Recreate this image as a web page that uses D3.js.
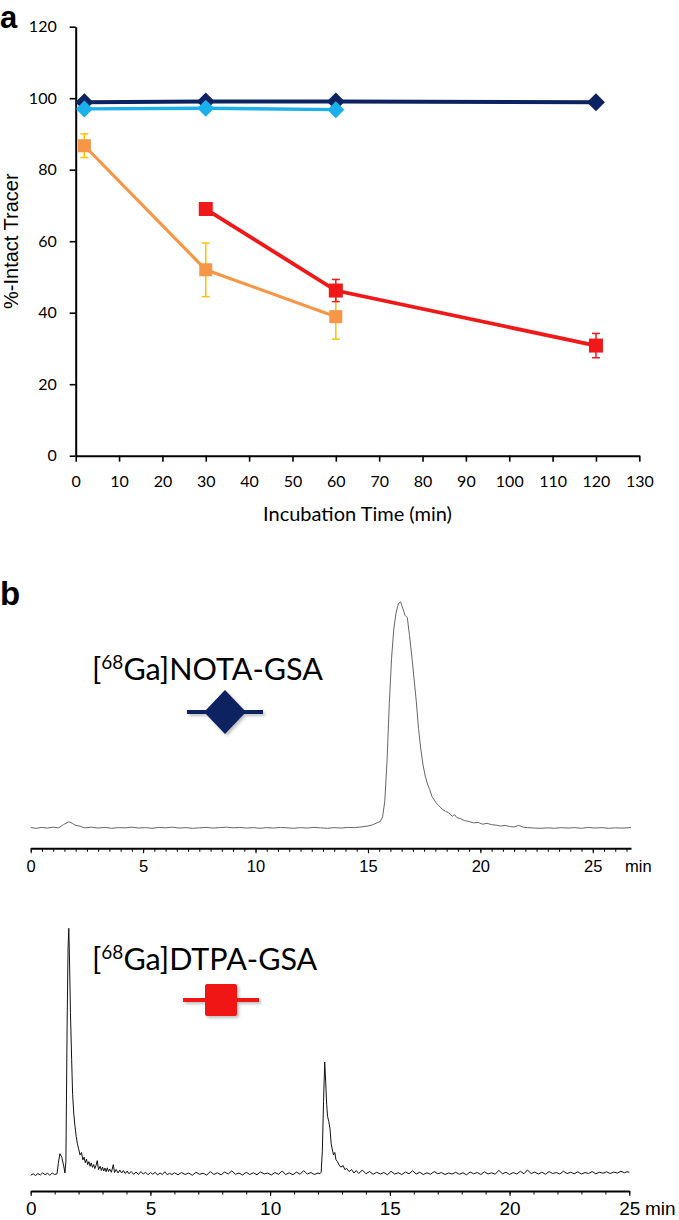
<!DOCTYPE html>
<html><head><meta charset="utf-8">
<script src="https://cdn.jsdelivr.net/npm/d3@7"></script>
<style>body{margin:0;background:#fff}svg{display:block}</style>
</head><body><svg id="c" width="679" height="1220"></svg>
<script>
// ---------- Panel a data ----------
const xTicksA = [0,10,20,30,40,50,60,70,80,90,100,110,120,130];
const yTicksA = [0,20,40,60,80,100,120];
const navyTimes = [2,30,60,120];
const navyVals  = [98.9,99.1,99.1,98.9];
const lightTimes = [2,30,60];
const lightVals  = [97.0,97.2,96.8];
const orangeTimes = [2,30,60];
const orangeVals  = [86.7,52.0,38.9];
const orangeErr   = [3.3,7.5,6.3];
const redTimes = [30,60,120];
const redVals  = [69.0,46.2,30.8];
const redErr   = [0.8,3.1,3.4];
const xTitleA = "Incubation Time (min)";
const yTitleA = "%-Intact Tracer";

// ---------- Panel b data ----------
const c1Labels = [0,5,10,15,20,25];
const c2Labels = [0,5,10,15,20,25];
const legend1 = ["[", "68", "Ga]NOTA-GSA"];
const legend2 = ["[", "68", "Ga]DTPA-GSA"];
// chromatogram 1 (NOTA-GSA): [time min, relative signal]
const trace1 = [[0,0.3],[0.25,0],[0.5,0.4],[0.75,0.1],[1.0,0.5],[1.25,0.2],[1.45,1.6],[1.7,2.9],[1.85,2.2],[2.0,1.3],[2.2,0.9],[2.4,0.2],[2.7,0.5],[3.0,0.1],[3.3,0.4],[3.6,0.0],[3.9,0.3],[4.2,0.2],[4.5,0.5],[4.8,0.1],[5.1,0.3],[5.4,0.0],[5.7,0.4],[6.0,0.2],[6.3,0.5],[6.6,0.1],[6.9,0.3],[7.2,0.0],[7.5,0.2],[7.8,0.4],[8.1,0.1],[8.4,0.3],[8.7,0.5],[9.0,0.2],[9.3,0.4],[9.6,0.1],[9.9,0.3],[10.2,0.0],[10.5,0.3],[10.8,0.1],[11.1,0.4],[11.4,0.2],[11.7,0.0],[12.0,0.3],[12.3,0.1],[12.6,0.4],[12.9,0.2],[13.2,0.0],[13.5,0.3],[13.8,0.1],[14.1,0.4],[14.4,0.3],[14.7,0.6],[15.0,1.0],[15.2,1.5],[15.4,2.4],[15.55,3.0],[15.65,5],[15.75,12],[15.85,30],[15.95,55],[16.05,75],[16.15,88],[16.25,95],[16.35,99],[16.45,100],[16.55,97],[16.65,94],[16.75,93],[16.85,85],[16.95,76],[17.05,66],[17.15,56],[17.25,44],[17.35,35],[17.45,28],[17.55,23],[17.65,19.5],[17.75,17],[17.85,14],[17.95,12.5],[18.05,11],[18.15,10],[18.3,8.5],[18.45,7.5],[18.6,6.8],[18.75,5.3],[18.85,6.0],[18.95,4.8],[19.1,4.3],[19.3,3.4],[19.5,3.0],[19.7,2.4],[19.9,2.6],[20.1,1.8],[20.3,2.2],[20.5,1.6],[20.7,1.4],[20.9,1.0],[21.1,1.3],[21.3,0.8],[21.5,0.6],[21.7,1.3],[21.9,0.5],[22.1,0.3],[22.4,0.1],[22.7,0.0],[23.0,0.2],[23.3,0.0],[23.6,0.3],[23.9,0.1],[24.2,0.3],[24.5,0.0],[24.8,0.4],[25.1,0.1],[25.4,0.3],[25.7,0.0],[26.0,0.2],[26.3,0.1],[26.7,0.3]];
// chromatogram 2 (DTPA-GSA)
const trace2 = [[0,0.3],[0.1,0.9],[0.2,0.2],[0.3,1.0],[0.4,0.4],[0.5,1.3],[0.6,0.5],[0.7,1.1],[0.8,0.3],[0.9,1.2],[1.0,0.6],[1.1,0.9],[1.15,5],[1.22,9.0],[1.3,7.5],[1.38,4.0],[1.43,1.2],[1.47,6],[1.52,60],[1.56,92],[1.59,100],[1.62,88],[1.66,66],[1.71,47],[1.75,33],[1.8,25],[1.85,20],[1.9,16],[1.95,13],[2.0,11],[2.06,8.5],[2.12,9.5],[2.18,6.5],[2.23,7.6],[2.28,5.4],[2.33,6.8],[2.38,4.6],[2.43,5.8],[2.48,3.9],[2.53,5.3],[2.58,3.5],[2.63,4.6],[2.68,3.0],[2.73,4.3],[2.78,6.2],[2.83,2.6],[2.9,3.9],[2.95,2.2],[3.0,3.6],[3.05,2.0],[3.1,3.2],[3.15,1.7],[3.2,3.3],[3.25,1.8],[3.3,2.8],[3.37,1.5],[3.45,4.6],[3.5,1.4],[3.57,2.6],[3.65,1.2],[3.72,2.4],[3.8,1.2],[3.87,2.2],[3.95,1.0],[4.03,2.0],[4.1,0.9],[4.2,1.8],[4.3,0.7],[4.4,1.6],[4.5,0.6],[4.6,1.8],[4.7,0.8],[4.8,1.5],[4.9,0.5],[5.0,1.4],[5.1,0.7],[5.2,1.5],[5.3,0.4],[5.4,1.2],[5.5,0.6],[5.6,1.7],[5.7,0.5],[5.8,1.1],[5.9,0.6],[6.0,1.3],[6.15,0.5],[6.3,1.4],[6.45,0.6],[6.6,1.2],[6.75,0.3],[6.9,1.5],[7.05,0.7],[7.2,1.1],[7.35,0.4],[7.5,1.8],[7.65,0.6],[7.8,1.3],[7.95,0.5],[8.1,1.6],[8.25,0.8],[8.4,2.1],[8.55,0.7],[8.7,1.2],[8.85,0.4],[9.0,1.5],[9.15,0.6],[9.3,1.3],[9.45,0.5],[9.6,1.7],[9.75,0.8],[9.9,1.2],[10.05,0.4],[10.2,1.4],[10.35,0.7],[10.5,2.0],[10.65,0.6],[10.8,1.3],[10.95,0.5],[11.1,1.6],[11.25,0.7],[11.4,2.2],[11.55,0.8],[11.7,1.4],[11.85,0.6],[12.0,1.2],[12.08,0.9],[12.13,1.5],[12.18,10],[12.23,30],[12.28,46],[12.32,38],[12.36,29],[12.4,24],[12.45,22],[12.5,19],[12.55,13],[12.6,10.5],[12.65,8.5],[12.7,9.5],[12.75,6.5],[12.8,6.0],[12.88,4.5],[12.95,3.6],[13.05,4.2],[13.12,2.6],[13.2,3.0],[13.3,1.8],[13.4,2.6],[13.5,1.2],[13.6,2.2],[13.7,1.0],[13.85,2.4],[14.0,0.9],[14.15,1.8],[14.3,0.7],[14.45,1.5],[14.6,0.8],[14.75,1.4],[14.9,0.5],[15.05,1.9],[15.2,0.8],[15.35,1.3],[15.5,0.6],[15.65,1.6],[15.8,0.9],[15.95,2.1],[16.1,0.8],[16.25,1.5],[16.4,0.6],[16.55,1.3],[16.7,0.7],[16.85,1.8],[17.0,0.9],[17.15,1.4],[17.3,0.6],[17.45,1.2],[17.6,0.8],[17.75,1.5],[17.9,0.7],[18.05,1.3],[18.2,0.5],[18.35,1.6],[18.5,0.9],[18.65,1.4],[18.8,0.6],[18.95,1.7],[19.1,0.8],[19.25,1.3],[19.4,0.7],[19.55,2.3],[19.7,0.9],[19.85,1.5],[20.0,0.6],[20.15,1.4],[20.3,0.8],[20.45,1.9],[20.6,0.9],[20.75,2.4],[20.9,1.0],[21.05,1.6],[21.2,0.8],[21.35,1.5],[21.5,0.7],[21.65,1.8],[21.8,1.0],[21.95,1.4],[22.1,0.8],[22.25,1.9],[22.4,1.0],[22.55,1.5],[22.7,0.9],[22.85,1.7],[23.0,0.8],[23.15,1.4],[23.3,1.0],[23.45,1.8],[23.6,0.9],[23.75,1.5],[23.9,1.1],[24.05,1.7],[24.2,1.0],[24.35,1.6],[24.5,1.2],[24.65,1.9],[24.8,1.3],[24.9,1.7],[25.0,1.5]];

const svg = d3.select("#c");
const NAVY="#0b2461", LIGHT="#1ab0ec", ORANGE="#f79646", RED="#f01818", GOLD="#ffc000";
const fontA = "Lato, 'Open Sans', sans-serif";
const fontArial = "'Liberation Sans', Arial, sans-serif";

// drop shadow filter for legend glyphs
const defs = svg.append("defs");
const f = defs.append("filter").attr("id","sh").attr("x","-30%").attr("y","-30%").attr("width","160%").attr("height","160%");
f.append("feDropShadow").attr("dx",2).attr("dy",2).attr("stdDeviation",1.5).attr("flood-color","#000").attr("flood-opacity",0.25);

// ================= Panel a =================
const xA = d3.scaleLinear().domain([0,130]).range([75.7,639.3]);
const yA = d3.scaleLinear().domain([0,120]).range([455.7,26.7]);
const gA = svg.append("g");

const xAx = gA.append("g").attr("transform",`translate(0,${yA(0)})`)
  .call(d3.axisBottom(xA).tickValues(xTicksA).tickSize(6).tickPadding(13.6).tickSizeOuter(0));
const yAx = gA.append("g").attr("transform",`translate(${xA(0)},0)`)
  .call(d3.axisLeft(yA).tickValues(yTicksA).tickSize(6).tickPadding(13).tickSizeOuter(0));
[xAx,yAx].forEach(a=>{
  a.select(".domain").attr("stroke","#000").attr("stroke-width",2);
  a.selectAll(".tick line").attr("stroke","#000").attr("stroke-width",1.6);
  a.selectAll(".tick text").attr("font-family",fontA).attr("font-size",16).attr("fill","#000");
});
gA.append("text").attr("x",(xA(0)+xA(130))/2).attr("y",521).attr("text-anchor","middle")
  .attr("font-family",fontA).attr("font-size",20).text(xTitleA);
gA.append("text").attr("transform",`translate(17.5,${(yA(0)+yA(120))/2}) rotate(-90)`).attr("text-anchor","middle")
  .attr("font-family",fontArial).attr("font-size",20).text(yTitleA);
svg.append("text").attr("x",0).attr("y",28).attr("font-family",fontArial).attr("font-weight","bold").attr("font-size",31).text("a");

function zip(t,v,e){return t.map((d,i)=>({t:d,v:v[i],e:e?e[i]:0}));}
const orange = zip(orangeTimes,orangeVals,orangeErr);
const red = zip(redTimes,redVals,redErr);
const navy = zip(navyTimes,navyVals);
const light = zip(lightTimes,lightVals);
const line = d3.line().x(d=>xA(d.t)).y(d=>yA(d.v));

function errBars(data,color){
  const g = gA.append("g").attr("stroke",color).attr("stroke-width",1.5).attr("fill","none");
  data.forEach(d=>{
    if(!d.e) return;
    g.append("line").attr("x1",xA(d.t)).attr("x2",xA(d.t)).attr("y1",yA(d.v-d.e)).attr("y2",yA(d.v+d.e));
    [d.v-d.e,d.v+d.e].forEach(v=>g.append("line").attr("x1",xA(d.t)-4).attr("x2",xA(d.t)+4).attr("y1",yA(v)).attr("y2",yA(v)));
  });
}
const diamond = r=>`M0,${-r}L${r},0L0,${r}L${-r},0Z`;
const square = s=>`M${-s/2},${-s/2}h${s}v${s}h${-s}Z`;

errBars(orange,GOLD);
gA.append("path").datum(orange).attr("d",line).attr("fill","none").attr("stroke",ORANGE).attr("stroke-width",3.2);
gA.selectAll(".om").data(orange).enter().append("path").attr("d",square(13))
  .attr("transform",d=>`translate(${xA(d.t)},${yA(d.v)})`).attr("fill",ORANGE);
errBars(red,RED);
gA.append("path").datum(red).attr("d",line).attr("fill","none").attr("stroke",RED).attr("stroke-width",3.8);
gA.selectAll(".rm").data(red).enter().append("path").attr("d",square(14))
  .attr("transform",d=>`translate(${xA(d.t)},${yA(d.v)})`).attr("fill",RED);
gA.append("path").datum(navy).attr("d",line).attr("fill","none").attr("stroke",NAVY).attr("stroke-width",4);
gA.selectAll(".nm").data(navy).enter().append("path").attr("d",diamond(9))
  .attr("transform",d=>`translate(${xA(d.t)},${yA(d.v)})`).attr("fill",NAVY);
gA.append("path").datum(light).attr("d",line).attr("fill","none").attr("stroke",LIGHT).attr("stroke-width",3.4);
gA.selectAll(".lm").data(light).enter().append("path").attr("d",diamond(8.5))
  .attr("transform",d=>`translate(${xA(d.t)},${yA(d.v)})`).attr("fill",LIGHT);

// ================= Panel b =================
svg.append("text").attr("x",0).attr("y",605).attr("font-family",fontArial).attr("font-weight","bold").attr("font-size",33).text("b");

function chrom(opts){
  const x = d3.scaleLinear().domain([0,opts.xmax]).range([30.7,opts.xRight]);
  const y = d3.scaleLinear().domain([0,100]).range([opts.base,opts.top]);
  const g = svg.append("g");
  g.append("path").datum(opts.data).attr("d",d3.line().x(d=>x(d[0])).y(d=>y(d[1])))
    .attr("fill","none").attr("stroke",opts.color).attr("stroke-width",opts.lw).attr("stroke-linejoin","round");
  const minor = g.append("g").attr("transform",`translate(0,${opts.axisY})`)
    .call(d3.axisBottom(x).tickValues(d3.range(0,opts.xmax+0.001,opts.minorStep)).tickSize(3.5).tickFormat("").tickSizeOuter(0));
  minor.select(".domain").attr("stroke","#000").attr("stroke-width",2);
  minor.selectAll(".tick line").attr("stroke","#000").attr("stroke-width",1);
  const major = g.append("g").attr("transform",`translate(0,${opts.axisY})`)
    .call(d3.axisBottom(x).tickValues(opts.labels).tickSize(5).tickPadding(opts.pad).tickSizeOuter(0));
  major.select(".domain").remove();
  major.selectAll(".tick line").attr("stroke","#000").attr("stroke-width",1);
  major.selectAll(".tick text").attr("font-family",fontArial).attr("font-size",opts.fs).attr("fill","#000");
  g.append("text").attr("x",opts.minX).attr("y",opts.minY).attr("font-family",fontArial).attr("font-size",opts.fs).text("min");
  return {x,y};
}
chrom({xmax:26.7,xRight:631,base:828.3,top:601.7,axisY:848.3,data:trace1,color:"#666",lw:1,
  minorStep:0.5,labels:c1Labels,pad:7,fs:16.5,minX:625,minY:872});
chrom({xmax:25,xRight:629.3,base:1176,top:928.3,axisY:1191,data:trace2,color:"#111",lw:1,
  minorStep:1,labels:c2Labels,pad:5.5,fs:19,minX:645,minY:1215});

function legendText(parts,x,yb){
  const t = svg.append("text").attr("x",x).attr("y",yb).attr("font-family",fontA).attr("font-size",30.5).attr("fill","#000");
  t.append("tspan").text(parts[0]);
  t.append("tspan").attr("dy",-11).attr("font-size",19).text(parts[1]);
  t.append("tspan").attr("dy",11).text(parts[2]);
}
legendText(legend1,92,680);
legendText(legend2,92,970);
// legend glyphs
const lg1 = svg.append("g").attr("filter","url(#sh)").attr("transform","translate(225,712)");
lg1.append("line").attr("x1",-38).attr("x2",38).attr("stroke",NAVY).attr("stroke-width",4);
lg1.append("path").attr("d","M0,-22L21,0L0,22L-21,0Z").attr("fill",NAVY);
const lg2 = svg.append("g").attr("filter","url(#sh)").attr("transform","translate(221,1000)");
lg2.append("line").attr("x1",-38).attr("x2",38).attr("stroke",RED).attr("stroke-width",4);
lg2.append("rect").attr("x",-16).attr("y",-16).attr("width",32).attr("height",32).attr("rx",2).attr("fill",RED);
</script></body></html>
